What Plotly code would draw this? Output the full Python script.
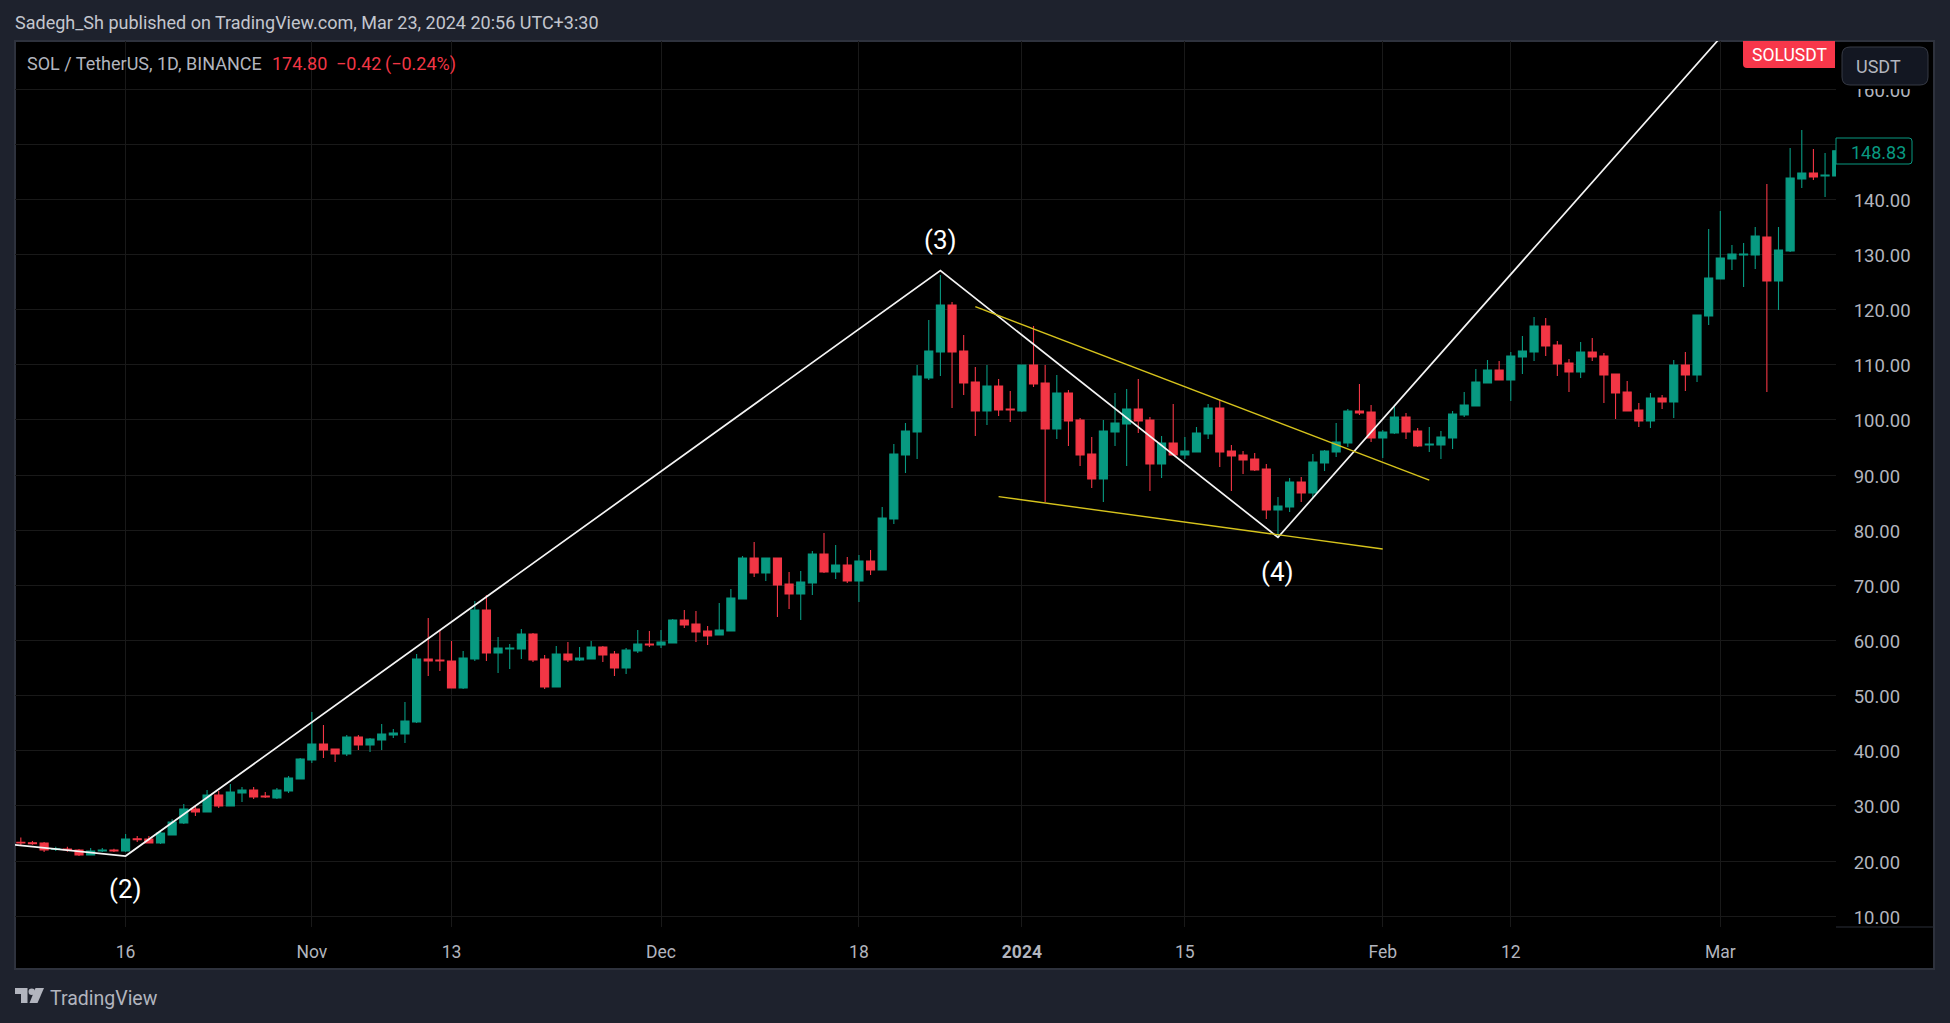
import pandas as pd
import plotly.graph_objects as go

# ---------------- data ----------------
first_day = "2023-10-07"
last_day = "2024-03-11"
opens = [23.40,23.34,23.28,22.13,22.19,22.01,21.10,21.82,22.01,21.82,24.06,24.00,23.28,24.73,26.90,29.44,28.90,31.98,29.99,32.35,
 32.89,31.80,31.44,32.71,34.89,38.33,41.23,40.33,39.42,42.50,41.05,41.96,42.87,43.05,45.22,56.65,56.47,56.29,51.39,56.65,
 65.54,57.74,58.46,58.46,61.18,56.65,51.57,57.56,56.47,56.65,58.83,57.56,55.02,58.10,59.37,59.19,59.55,63.72,63.00,61.73,
 61.00,61.73,67.53,74.97,72.25,74.97,70.25,68.44,70.44,75.69,72.43,73.70,70.80,74.43,72.79,82.04,93.65,97.82,107.61,112.33,
 120.85,112.51,106.89,101.63,106.16,101.99,101.63,109.97,106.71,98.36,104.89,99.99,93.83,89.29,97.82,99.27,101.99,99.99,92.02,95.82,
 93.65,94.19,97.46,102.17,94.37,93.65,92.92,91.11,83.67,84.21,88.75,86.75,92.20,94.19,95.82,101.63,101.44,96.73,97.64,100.54,
 98.00,95.46,95.46,96.73,100.90,102.53,106.71,109.06,107.25,111.42,112.33,117.04,113.60,110.33,108.70,112.33,111.60,108.34,105.07,101.81,
 99.81,103.98,103.26,109.97,108.15,118.86,125.57,129.19,129.92,129.92,133.18,125.20,130.65,143.70,144.79,144.25,144.25]
highs = [24.30,23.64,23.46,22.61,22.61,22.19,22.37,22.37,22.25,24.91,24.55,24.55,25.63,27.57,30.35,30.17,32.89,32.71,33.98,33.43,
 33.43,32.53,33.25,35.43,38.69,47.04,44.68,40.33,42.87,42.87,42.32,44.86,43.95,48.85,57.56,64.09,61.91,59.92,58.10,67.17,
 68.26,60.64,59.37,62.09,61.37,57.38,59.01,59.73,58.83,59.92,59.01,58.10,58.65,61.91,61.73,61.91,63.91,65.54,65.36,62.64,
 66.81,69.35,75.33,77.87,74.97,74.97,72.43,72.61,76.24,79.50,77.33,75.15,75.51,76.42,84.22,95.64,99.45,109.97,118.13,126.30,
 121.40,115.41,109.61,109.97,107.43,105.25,109.97,117.04,109.97,108.16,105.44,100.36,96.91,99.99,104.89,105.62,107.43,100.54,97.09,102.90,
 96.91,98.73,102.90,103.62,95.46,94.37,94.01,92.02,86.03,89.47,89.66,93.83,94.55,99.45,101.99,106.52,102.72,98.18,102.53,101.26,
 98.54,98.72,98.00,101.63,105.07,109.24,110.88,110.70,112.33,115.23,118.68,118.50,114.32,111.06,114.14,114.87,112.15,108.34,107.07,103.08,
 104.89,104.53,110.87,112.33,119.04,134.63,137.90,131.73,132.09,135.00,142.80,135.00,149.33,152.59,149.15,148.42,149.50]
lows = [22.91,22.98,21.64,21.82,21.70,20.92,21.04,21.64,21.64,21.64,23.46,23.22,23.10,24.73,26.72,28.17,28.90,29.62,29.99,30.71,
 31.26,31.44,31.26,32.35,34.89,37.79,38.69,37.97,39.06,40.14,39.78,40.14,42.32,41.41,45.04,53.57,54.47,51.39,51.21,56.29,
 56.29,54.11,54.84,56.65,56.11,51.21,51.57,56.11,56.29,56.65,56.11,53.57,53.93,57.74,58.83,58.65,59.55,62.27,59.73,59.19,
 61.00,61.73,67.53,71.52,70.80,64.27,65.72,63.72,68.26,72.25,71.16,70.44,66.99,71.89,72.79,81.13,90.38,92.92,107.25,107.98,
 102.17,104.53,97.09,99.09,100.72,99.63,101.45,105.98,85.12,96.55,95.28,91.65,87.66,85.12,95.28,91.65,97.64,87.12,89.47,93.65,
 92.92,94.19,96.55,91.47,87.12,90.20,90.74,82.04,78.96,83.31,85.12,85.85,90.74,93.28,95.10,100.90,96.00,93.10,97.46,96.55,
 95.10,94.19,92.92,94.73,100.54,102.53,106.71,107.25,103.44,108.34,110.70,111.60,107.97,105.07,107.61,110.70,103.08,100.18,101.63,98.72,
 98.54,101.99,100.35,105.25,106.88,117.22,125.57,127.20,124.12,127.38,105.07,119.94,130.46,142.07,143.52,140.44,144.00]
closes = [23.28,23.16,22.01,22.25,22.07,21.10,21.82,22.01,21.82,24.00,23.88,23.28,25.09,27.09,29.44,28.90,31.98,29.99,32.53,32.89,
 31.62,31.62,32.89,35.07,38.51,41.23,40.14,39.42,42.50,41.05,42.14,43.05,43.23,45.40,56.65,56.29,56.29,51.39,56.83,65.54,
 57.74,58.65,58.65,61.18,56.47,51.57,57.56,56.47,56.83,58.83,57.38,55.02,58.28,59.37,59.19,59.73,63.72,62.82,61.55,60.82,
 61.91,67.71,74.97,72.25,74.97,70.07,68.44,70.62,75.69,72.43,73.70,70.80,74.43,72.79,82.22,93.83,98.00,107.98,112.51,120.85,
 112.33,106.71,101.63,106.16,101.81,101.81,109.97,106.53,98.36,104.89,99.81,93.65,89.29,98.00,99.45,101.99,99.81,92.02,95.82,93.65,
 94.37,97.64,102.17,94.19,93.47,92.74,90.93,83.67,84.40,88.75,86.75,92.38,94.37,96.00,101.63,101.26,96.73,97.82,100.54,97.82,
 95.28,95.64,96.91,101.08,102.72,106.89,109.06,107.25,111.60,112.51,117.04,113.42,110.15,108.70,112.33,111.42,108.16,104.89,101.63,99.81,
 103.98,103.26,109.97,108.15,119.04,125.75,129.37,130.10,130.10,133.36,125.20,130.83,143.89,144.79,144.07,144.43,148.83]

wave_dates = ["2023-10-06", "2023-10-16", "2023-12-25", "2024-01-23", "2024-03-04"]
wave_prices = [23.07, 20.92, 127.08, 78.71, 176.5]
upper_dates = ["2023-12-28", "2024-02-05"]
upper_prices = [120.55, 89.11]
lower_dates = ["2023-12-30", "2024-02-01"]
lower_prices = [86.09, 76.60]
wave_labels = ["(2)", "(3)", "(4)"]
wave_label_dates = ["2023-10-16", "2023-12-25", "2024-01-23"]
wave_label_prices = [14.94, 132.64, 72.49]

x_tick_dates = ["2023-10-16","2023-11-01","2023-11-13","2023-12-01","2023-12-18","2024-01-01","2024-01-15","2024-02-01","2024-02-12","2024-03-01"]
x_tick_text = ["16","Nov","13","Dec","18","<b>2024</b>","15","Feb","12","Mar"]
y_ticks = [10,20,30,40,50,60,70,80,90,100,110,120,130,140,150,160]
y_tick_text = ["10.00","20.00","30.00","40.00","50.00","60.00","70.00","80.00","90.00","100.00","110.00","120.00","130.00","140.00","","160.00"]

# ---------------- style ----------------
W, H = 1950, 1023
L, R, T, B = 15, 1836, 41, 927
BG, GRID, EDGE = "#1e222d", "#191919", "#2e323d"
GREEN, RED, GREY = "#089981", "#f23645", "#b2b5be"
FONT = "Roboto"

def px(x): return (x - L) / (R - L)
def py(y): return (B - y) / (B - T)

def rrect(x0, y0, x1, y1, r=(6, 6, 6, 6)):
    tl, tr, br, bl = r
    return (f"M {px(x0+tl)} {py(y0)} L {px(x1-tr)} {py(y0)} Q {px(x1)} {py(y0)} {px(x1)} {py(y0+tr)} "
            f"L {px(x1)} {py(y1-br)} Q {px(x1)} {py(y1)} {px(x1-br)} {py(y1)} "
            f"L {px(x0+bl)} {py(y1)} Q {px(x0)} {py(y1)} {px(x0)} {py(y1-bl)} "
            f"L {px(x0)} {py(y0+tl)} Q {px(x0)} {py(y0)} {px(x0+tl)} {py(y0)} Z")

def poly(points):
    return "M " + " L ".join(f"{px(a)} {py(b)}" for a, b in points) + " Z"

dates = pd.date_range(first_day, last_day, freq="D")

fig = go.Figure()
fig.add_trace(go.Candlestick(
    x=dates, open=opens, high=highs, low=lows, close=closes, whiskerwidth=0,
    increasing=dict(line=dict(color=GREEN, width=1.1), fillcolor=GREEN),
    decreasing=dict(line=dict(color=RED, width=1.1), fillcolor=RED),
    showlegend=False, hoverinfo="skip"))
fig.add_trace(go.Scatter(x=wave_dates, y=wave_prices, mode="lines",
                         line=dict(color="#f4f4f4", width=1.7), showlegend=False, hoverinfo="skip"))
fig.add_trace(go.Scatter(x=upper_dates, y=upper_prices, mode="lines",
                         line=dict(color="#d6c31c", width=1.4), showlegend=False, hoverinfo="skip"))
fig.add_trace(go.Scatter(x=lower_dates, y=lower_prices, mode="lines",
                         line=dict(color="#d6c31c", width=1.4), showlegend=False, hoverinfo="skip"))

shapes = [
    # black pane with its border, behind the plot
    dict(type="rect", xref="paper", yref="paper", x0=px(15), x1=px(1934), y0=py(969), y1=py(41),
         fillcolor="#000000", line=dict(color=EDGE, width=2), layer="below"),
    # line under the price axis
    dict(type="line", xref="paper", yref="paper", x0=px(1836), x1=px(1934), y0=py(927), y1=py(927),
         line=dict(color="#2a2e39", width=1), layer="above"),
    # top of the price axis: hides the upper half of the clipped 160.00 label
    dict(type="rect", xref="paper", yref="paper", x0=px(1837), x1=px(1933), y0=py(89), y1=py(42),
         fillcolor="#000000", line=dict(width=0), layer="above"),
    # SOLUSDT flag
    dict(type="path", xref="paper", yref="paper", path=rrect(1743, 41, 1835, 68, (0, 0, 0, 4)),
         fillcolor="#f7374a", line=dict(width=0), layer="above"),
    # USDT button
    dict(type="path", xref="paper", yref="paper", path=rrect(1842, 47, 1928, 85, (8, 8, 8, 8)),
         fillcolor="#131722", line=dict(color="#363a45", width=1), layer="above"),
    # last price box
    dict(type="path", xref="paper", yref="paper", path=rrect(1836, 138, 1912, 164, (0, 3, 3, 0)),
         fillcolor="#000000", line=dict(color=GREEN, width=1), layer="above"),
    # TradingView logo
    dict(type="path", xref="paper", yref="paper",
         path=poly([(15, 988), (27.5, 988), (27.5, 1003), (21, 1003), (21, 994), (15, 994)]),
         fillcolor=GREY, line=dict(width=0), layer="above"),
    dict(type="circle", xref="paper", yref="paper", x0=px(28.5), x1=px(35), y0=py(995), y1=py(988.5),
         fillcolor=GREY, line=dict(width=0), layer="above"),
    dict(type="path", xref="paper", yref="paper",
         path=poly([(35.5, 988), (44, 988), (37.5, 1003), (29.5, 1003)]),
         fillcolor=GREY, line=dict(width=0), layer="above"),
]

def note(text, x, y, color=GREY, size=18, anchor="left"):
    return dict(text=text, xref="paper", yref="paper", x=px(x), y=py(y), xanchor=anchor, yanchor="middle",
                showarrow=False, font=dict(family=FONT, size=size, color=color), borderpad=0)

annotations = [
    note("Sadegh_Sh published on TradingView.com, Mar 23, 2024 20:56 UTC+3:30", 14, 22.5, "#c3c6ce"),
    note("SOL / TetherUS, 1D, BINANCE", 26, 64),
    note("174.80", 271, 64, RED),
    note("\u22120.42", 335, 64, RED),
    note("(\u22120.24%)", 384, 64, RED),
    note("SOLUSDT", 1789, 55, "#ffffff", 17.5, "center"),
    note("USDT", 1855, 66.5, GREY, 18),
    note(f"{closes[-1]:.2f}", 1850, 152, GREEN),
    note("TradingView", 49, 998.5, GREY, 19.5),
]
for t, d, p in zip(wave_labels, wave_label_dates, wave_label_prices):
    annotations.append(dict(text=t, x=d, y=p, xref="x", yref="y", showarrow=False, xanchor="center", yanchor="middle",
                            font=dict(family=FONT, size=26, color="#ffffff")))

fig.update_layout(
    width=W, height=H, autosize=False,
    margin=dict(l=L, r=W - R, t=T, b=H - B, pad=0),
    paper_bgcolor=BG, plot_bgcolor="#000000",
    font=dict(family=FONT, color=GREY, size=17),
    boxgap=0.05, boxgroupgap=0.27,
    shapes=shapes, annotations=annotations,
    hovermode=False,
    xaxis=dict(type="date", range=["2023-10-06 12:00", "2024-03-10 22:33"],
               rangeslider=dict(visible=False), showgrid=True, gridcolor=GRID, gridwidth=1,
               tickmode="array", tickvals=x_tick_dates, ticktext=x_tick_text,
               ticks="outside", ticklen=9, tickcolor="rgba(0,0,0,0)",
               showline=False, zeroline=False,
               tickfont=dict(family=FONT, size=17.5, color=GREY)),
    yaxis=dict(side="right", range=[8.05, 168.73], showgrid=True, gridcolor=GRID, gridwidth=1,
               tickmode="array", tickvals=y_ticks, ticktext=y_tick_text,
               ticks="outside", ticklen=13, tickcolor="rgba(0,0,0,0)",
               showline=False, zeroline=False, ticklabelshift=1,
               tickfont=dict(family=FONT, size=18.5, color=GREY)),
)

fig.write_html("out.html", config=dict(displayModeBar=False, staticPlot=True),
               post_script="document.body.style.margin='0';document.body.style.overflow='hidden';document.body.style.background='#1e222d';")
